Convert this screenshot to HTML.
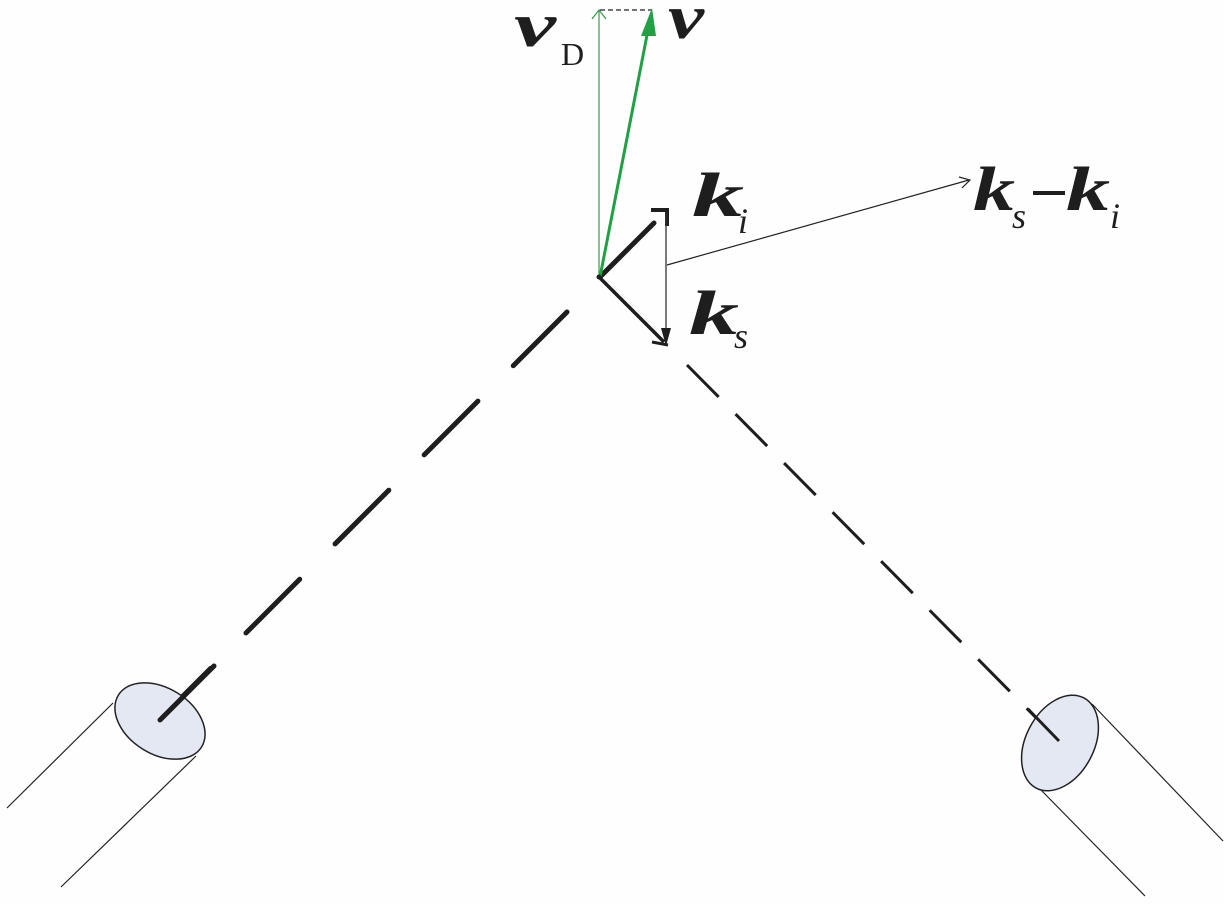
<!DOCTYPE html>
<html><head><meta charset="utf-8"><style>html,body{margin:0;padding:0;background:#fff}svg{display:block}
.b{font-family:"Liberation Serif",serif;font-weight:bold;font-style:italic;font-size:62px}
.s{font-family:"Liberation Serif",serif;font-style:italic;font-size:36px}
</style></head>
<body>
<svg width="1224" height="904" viewBox="0 0 1224 904" xmlns="http://www.w3.org/2000/svg">
<rect width="1224" height="904" fill="#fefefe"/>
<line x1="567" y1="312" x2="160" y2="719" stroke="#1e1e1e" stroke-width="5" stroke-linecap="round" stroke-dasharray="76 50"/>
<line x1="687" y1="365" x2="1059" y2="741" stroke="#1e1e1e" stroke-width="3" stroke-dasharray="45 24"/>
<line x1="113" y1="703" x2="7" y2="808" stroke="#222" stroke-width="1.2"/>
<line x1="196" y1="756" x2="61" y2="887" stroke="#222" stroke-width="1.2"/>
<ellipse cx="160" cy="721" rx="49" ry="33" transform="rotate(32 160 721)" fill="#e4e8f2" stroke="#222" stroke-width="1.5"/>
<line x1="214" y1="666" x2="160" y2="720" stroke="#1e1e1e" stroke-width="5" stroke-linecap="round"/>
<line x1="1092" y1="704" x2="1223" y2="841" stroke="#222" stroke-width="1.2"/>
<line x1="1041" y1="790" x2="1145" y2="896" stroke="#222" stroke-width="1.2"/>
<ellipse cx="1060" cy="743" rx="51" ry="34" transform="rotate(-62 1060 743)" fill="#e4e8f2" stroke="#222" stroke-width="1.5"/>
<line x1="1028" y1="709" x2="1059" y2="741" stroke="#1e1e1e" stroke-width="3"/>
<line x1="600" y1="277" x2="654" y2="223" stroke="#1e1e1e" stroke-width="5" stroke-linecap="round"/>
<polyline points="651,210 667,210 667,226" fill="none" stroke="#1e1e1e" stroke-width="4"/>
<line x1="666" y1="212" x2="666" y2="340" stroke="#333" stroke-width="1.3"/>
<polygon points="661,328 671,328 666,346" fill="#1e1e1e"/>
<line x1="600" y1="278" x2="664" y2="342" stroke="#1e1e1e" stroke-width="3.5"/>
<line x1="652" y1="342" x2="668" y2="345" stroke="#1e1e1e" stroke-width="3"/>
<line x1="667" y1="265" x2="969" y2="180" stroke="#222" stroke-width="1.2"/>
<polyline points="959,177 970,180 962,188" fill="none" stroke="#222" stroke-width="1.2"/>
<line x1="599" y1="277" x2="599" y2="10" stroke="#3a9a48" stroke-width="1.2"/>
<polyline points="592,19 599,10 606,19" fill="none" stroke="#3a9a48" stroke-width="1.2"/>
<line x1="600" y1="10" x2="652" y2="10" stroke="#222" stroke-width="1.2" stroke-dasharray="5 3"/>
<line x1="600" y1="277" x2="648" y2="30" stroke="#22a044" stroke-width="3"/>
<polygon points="641,36 656,36 652,8" fill="#22a044"/>
<circle cx="599" cy="277" r="2.5" fill="#1e1e1e"/>
<g fill="#1e1e1e">
<text class="b" x="514" y="46" textLength="42" lengthAdjust="spacingAndGlyphs">v</text>
<text x="561" y="65" style="font-family:'Liberation Serif',serif;font-size:32px">D</text>
<text class="b" x="668" y="38" textLength="36" lengthAdjust="spacingAndGlyphs">v</text>
<text class="b" x="692" y="216" textLength="52" lengthAdjust="spacingAndGlyphs">k</text>
<text class="s" x="738" y="233">i</text>
<text class="b" x="689" y="334" textLength="50" lengthAdjust="spacingAndGlyphs">k</text>
<text class="s" x="734" y="348">s</text>
<text class="b" x="973" y="210" textLength="42" lengthAdjust="spacingAndGlyphs">k</text>
<text class="s" x="1012" y="228">s</text>
<rect x="1033" y="191" width="32" height="4" fill="#1e1e1e"/>
<text class="b" x="1066" y="210" textLength="44" lengthAdjust="spacingAndGlyphs">k</text>
<text class="s" x="1110" y="228">i</text>
</g>
</svg>
</body></html>
